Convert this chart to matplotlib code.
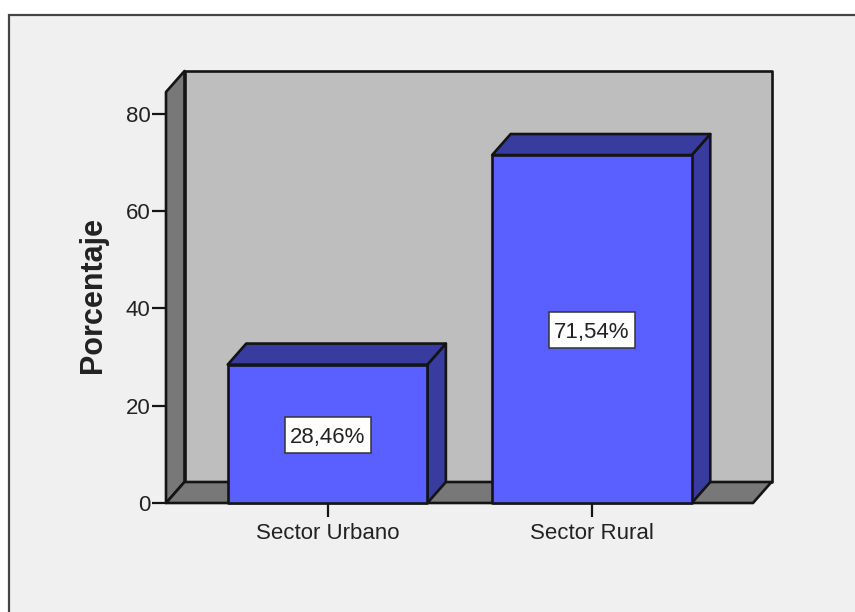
import matplotlib
matplotlib.use("Agg")
import matplotlib.pyplot as plt
from matplotlib.patches import Polygon, Rectangle

categories = ["Sector Urbano", "Sector Rural"]
values = [28.46, 71.54]
labels = ["28,46%", "71,54%"]
y_ticks = [0, 20, 40, 60, 80]
y_label = "Porcentaje"

W, H = 855, 612
plt.rcParams["font.family"] = ["Liberation Sans", "DejaVu Sans"]
TXT = "#222222"
EDGE = "#141414"
WALL = "#bebebe"
SIDE = "#787878"
BAR = "#5a5fff"
BAR_DARK = "#383c9f"

fig = plt.figure(figsize=(W / 100, H / 100), dpi=100, facecolor="white")
fig.add_artist(Rectangle((9 / W, -0.01), 1, 1 - 15 / H + 0.01, transform=fig.transFigure,
                         facecolor="#f0f0f0", edgecolor="#444444", linewidth=1.6, zorder=-1))

ax = fig.add_axes([166 / W, 1 - 503 / H, (753 - 166) / W, (503 - 92) / H])
ax.patch.set_visible(False)
xs = list(range(len(categories)))
ax.set_xlim(-0.611, 1.609)
ax.set_ylim(0, 84.5)
x0, x1 = ax.get_xlim()
y0, y1 = ax.get_ylim()
px_x = (x1 - x0) / (753 - 166)
px_y = (y1 - y0) / (503 - 92)
dx = 18.5 * px_x
dy = 21 * px_y
bw = 0.755
LW = 1.9


def poly(pts, fc, z, lw=LW):
    ax.add_patch(Polygon(pts, closed=True, facecolor=fc, edgecolor=EDGE, linewidth=lw,
                         joinstyle="round", clip_on=False, zorder=z))


# chart box: back wall, left wall, floor
poly([(x0 + dx, y0 + dy), (x1 + dx, y0 + dy), (x1 + dx, y1 + dy), (x0 + dx, y1 + dy)], WALL, 1)
poly([(x0, y0), (x0 + dx, y0 + dy), (x0 + dx, y1 + dy), (x0, y1)], SIDE, 2)
poly([(x0, y0), (x1, y0), (x1 + dx, y0 + dy), (x0 + dx, y0 + dy)], SIDE, 2)

# 3D bars
for x, v, lab in zip(xs, values, labels):
    l, r = x - bw / 2, x + bw / 2
    poly([(r, 0), (r + dx, dy), (r + dx, v + dy), (r, v)], BAR_DARK, 3)
    poly([(l, v), (r, v), (r + dx, v + dy), (l + dx, v + dy)], BAR_DARK, 3)
    poly([(l, 0), (r, 0), (r, v), (l, v)], BAR, 4)
    bx, by = 86 * px_x, 36 * px_y
    ax.add_patch(Rectangle((x - bx / 2, v / 2 - by / 2 - 0.2), bx, by, facecolor="white",
                           edgecolor="#333333", linewidth=1.1, zorder=5))
    ax.text(x, v / 2 - 0.2, lab, ha="center", va="center_baseline", fontsize=16, color=TXT, zorder=6)

for s in ax.spines.values():
    s.set_visible(False)
ax.set_xticks(xs, categories)
ax.set_yticks(y_ticks)
ax.tick_params(axis="both", length=10, width=1.6, color=EDGE, labelsize=16, labelcolor=TXT)
ax.tick_params(axis="x", pad=4.5)
ax.tick_params(axis="y", pad=1.2)
ax.set_ylabel(y_label, fontsize=22, fontweight="bold", color=TXT)
ax.yaxis.set_label_coords((108 - 166) / (753 - 166), (503 - 295) / (503 - 92))

fig.savefig("out.png", dpi=100)
